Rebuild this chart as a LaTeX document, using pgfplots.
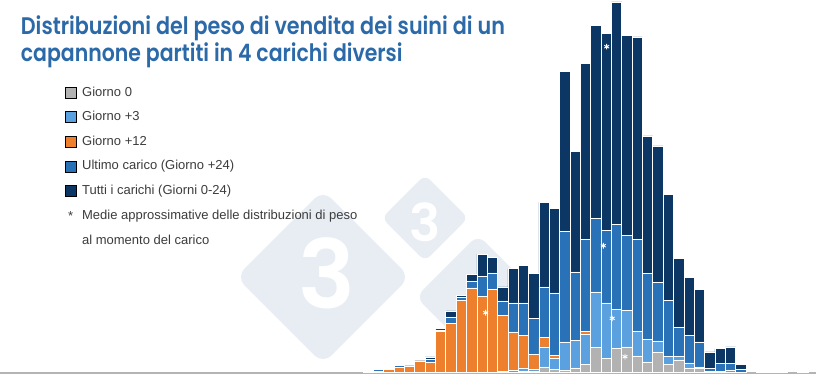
\documentclass[border=0pt]{standalone}
\usepackage{fontspec}
\setmainfont{Liberation Sans}
\newfontfamily\titlefont{Poppins SemiBold}
\usepackage{graphicx}
\usepackage{pgfplots}
\usepackage{pgfplotstable}
\pgfplotsset{compat=1.18}
\definecolor{cG}{HTML}{B2B2B2}
\definecolor{cL}{HTML}{5BA1DF}
\definecolor{cO}{HTML}{EE7F2D}
\definecolor{cU}{HTML}{2A72B8}
\definecolor{cN}{HTML}{0C3765}
\definecolor{cT}{HTML}{2B69A9}
\definecolor{cTx}{HTML}{3C3C3C}
\definecolor{cW}{HTML}{E8EDF4}
\definecolor{cAx}{HTML}{B4B4B4}

\pgfplotstableread{
i N U O L G
0 1.5 1.5 1.5 0 0
1 3.5 2.7 1.5 0 0
2 3.2 3.2 3.2 0 0
3 8.3 7 5.3 0 0
4 6.6 6.6 6.6 0 0
5 11.6 11.6 11.6 0 0
6 15.6 13.3 10.6 0 0
7 44 42.6 41 0 0
8 61.6 55 49 0 0
9 77.3 75.3 72.3 0 0
10 98.3 91.3 84.6 0 0
11 118.3 96.3 76.3 0 0
12 115.3 99.6 83.3 0 0
13 85.6 71.6 57 1.5 0.5
14 104 69.6 40.6 2.3 0.5
15 107.3 69.6 37.3 4.6 1
16 99 54 18.3 3.3 1.2
17 170 85.6 35 25.6 5.6
18 164 79.6 17.3 14 3
19 301.3 141.3 20 30.6 1.8
20 221.3 100.6 20 32.3 4.6
21 309.3 133.3 41.3 38 8.3
22 347.3 154 30 80.6 25
23 339 142.3 30 69.6 14
24 370.6 148.3 20 63 24
25 337.3 137.3 20 62.3 25.6
26 335.6 133 10 41.3 16.6
27 236.6 99 5 33 10.6
28 226.6 90.3 5 31.6 20
29 178 72.3 3 16.3 8.3
30 114 45 2 16.3 12.3
31 95 37.3 0 9.6 4.6
32 83 30.6 0 5.6 4
33 20.6 4 0 1.3 0
34 24 9 0 1.3 0
35 25.6 9 0 1.8 0
36 8 3 0 0 0
37 0 0 0 0 0
38 1.8 1.3 0 0 0
39 1.1 1.1 0 0 0
40 2.1 1.3 0 0 0
41 0 0 0 0 0
42 1.3 1.3 0 0 0
}\histdata

\pgfplotstableread{
x y
11.35 59.8
23.04 325.8
22.72 126.8
23.58 54.2
24.81 15.8
}\meandata

\pgfplotsset{
  sqleg/.style={legend image code/.code={\fill[##1] (0pt,-5.5pt) rectangle (11pt,5.5pt);}},
  hbar/.style={ybar, bar width=10.35pt, bar shift=0pt, draw=white, line width=0.7pt, restrict y to domain=0.05:2000},
}

\begin{document}
\begin{tikzpicture}
\path[use as bounding box] (0pt,0pt) rectangle (820pt,389pt);
\fill[white] (0pt,0pt) rectangle (820pt,389pt);
% watermark
\node[fill=cW, rotate=45, minimum size=123pt, rounded corners=12pt, inner sep=0pt] at (323pt,112pt) {};
\node[text=white, inner sep=0pt] at (327pt,116pt) {\fontsize{95}{95}\selectfont\titlefont 3};
\node[fill=cW, rotate=45, minimum size=61pt, rounded corners=7pt, inner sep=0pt] at (425pt,171pt) {};
\node[text=white, inner sep=0pt] at (425pt,167pt) {\fontsize{52}{52}\selectfont\titlefont 3};
\node[fill=cW, rotate=45, minimum size=88pt, rounded corners=10pt, inner sep=0pt] at (478pt,92pt) {};

\begin{axis}[
  at={(0pt,16.5pt)}, anchor=south west,
  x=10.35pt, y=1pt,
  xmin=-35.575, xmax=43.27, ymin=0, ymax=372,
  hide axis,
  clip=false,
  legend cell align=left,
  legend style={at={(0.0797,0.7688)}, anchor=north west, draw=none, fill=none,
    inner sep=0pt, outer sep=0pt, row sep=12.6pt, column sep=5.7pt,
    font=\fontsize{13}{15}\selectfont\color{cTx},
    nodes={inner sep=0pt, text height=9.5pt, text depth=2.5pt}},
]
\addlegendimage{sqleg, fill=cG}\addlegendentry{Giorno 0}
\addlegendimage{sqleg, fill=cL}\addlegendentry{Giorno +3}
\addlegendimage{sqleg, fill=cO}\addlegendentry{Giorno +12}
\addlegendimage{sqleg, fill=cU}\addlegendentry{Ultimo carico (Giorno +24)}
\addlegendimage{sqleg, fill=cN}\addlegendentry{Tutti i carichi (Giorni 0-24)}
\addlegendimage{legend image code/.code={\node[anchor=base, inner sep=0pt, text=cTx] at (5.5pt,-4.5pt) {*};}}\addlegendentry{Medie approssimative delle distribuzioni di peso}
\addlegendimage{empty legend}\addlegendentry{al momento del carico}

\addplot[cAx, line width=1.8pt, forget plot] coordinates {(-35.575,-0.3) (43.27,-0.3)};
\addplot[hbar, fill=cN, forget plot] table[x=i, y=N] {\histdata};
\addplot[hbar, fill=cU, forget plot] table[x=i, y=U] {\histdata};
\addplot[hbar, fill=cO, forget plot] table[x=i, y=O] {\histdata};
\addplot[hbar, fill=cL, forget plot] table[x=i, y=L] {\histdata};
\addplot[hbar, fill=cG, forget plot] table[x=i, y=G] {\histdata};
\addplot[only marks, mark=asterisk, mark size=2.8pt, white, line width=0.9pt, forget plot] table[x=x, y=y] {\meandata};
\end{axis}

\node[anchor=base west, inner sep=0pt, text=cT] at (20.7pt,354.5pt) {\resizebox{484pt}{18.8pt}{\titlefont Distribuzioni del peso di vendita dei suini di un}};
\node[anchor=base west, inner sep=0pt, text=cT] at (20.7pt,327.8pt) {\resizebox{381.6pt}{18.8pt}{\titlefont capannone partiti in 4 carichi diversi}};
\end{tikzpicture}
\end{document}
